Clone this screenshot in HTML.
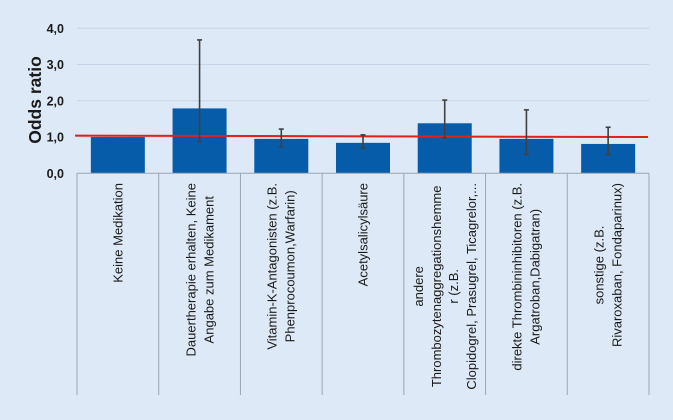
<!DOCTYPE html>
<html><head><meta charset="utf-8"><style>
html,body{margin:0;padding:0}
body{width:673px;height:420px;background:#dde9f7;position:relative;overflow:hidden;font-family:"Liberation Sans",sans-serif}
svg{position:absolute;left:0;top:0}
.lw{position:absolute;width:0;height:0;transform:rotate(-90deg);transform-origin:0 0}
.li{position:absolute;right:0;top:0;transform:translateY(-50%);white-space:nowrap;text-align:center;font-size:13px;line-height:17.5px;color:#1a1a1a;font-weight:normal}
</style></head><body>
<svg id="chart" width="673" height="420"></svg>
<div id="labels"></div>
<script>
const categories=["Keine Medikation","Dauertherapie erhalten, Keine<br>Angabe zum Medikament","Vitamin-K-Antagonisten (z.B.<br>Phenprocoumon,Warfarin)","Acetylsalicylsäure","andere<br>Thrombozytenaggregationshemme<br>r (z.B.<br>Clopidogrel, Prasugrel, Ticagrelor,...","direkte Thrombininhibitoren (z.B.<br>Argatroban,Dabigatran)","sonstige (z.B.<br>Rivaroxaban, Fondaparinux)"];
const values=[1.0,1.79,0.95,0.84,1.38,0.95,0.81];
const errHigh=[null,3.68,1.22,1.06,2.02,1.75,1.27];
const errLow=[null,0.87,0.73,0.69,0.97,0.52,0.52];
const yTicks=[0,1,2,3,4];
const tickLabels=["0,0","1,0","2,0","3,0","4,0"];
const refLine=[1.04,1.0];

const NS="http://www.w3.org/2000/svg";
const svg=document.getElementById('chart');
const X0=77,X1=649,Y0=173.3,PX=36.25;
const bw=(X1-X0)/categories.length;
const y=v=>Y0-v*PX;
const xc=i=>X0+bw*(i+0.5);
function mk(t,a){const e=document.createElementNS(NS,t);for(const k in a)e.setAttribute(k,a[k]);svg.appendChild(e);return e;}
yTicks.forEach((t,i)=>{
  if(t>0){const g=mk('line',{x1:X0,x2:X1,y1:y(t),y2:y(t),stroke:'#c5d4e6','stroke-width':1});
  
  }
  const l=mk('text',{x:64,y:y(t)+4.5,'text-anchor':'end','font-size':12.5,'font-weight':'bold',fill:'#1a1a1a','font-family':'Liberation Sans'});
  l.textContent=tickLabels[i];
  
  
});
const title=mk('text',{x:0,y:0,transform:'translate(41,100) rotate(-90)','text-anchor':'middle','font-size':17.5,'font-weight':'bold',fill:'#1a1a1a','font-family':'Liberation Sans'});
title.textContent='Odds ratio';


values.forEach((v,i)=>{
  const b=mk('rect',{x:xc(i)-27,y:y(v),width:54,height:Y0-y(v),fill:'#075ca9'});
  
  
});
const ax=mk('line',{x1:X0,x2:X1,y1:Y0,y2:Y0,stroke:'#9aa6b2','stroke-width':1});


for(let i=0;i<=categories.length;i++){
  const d=mk('line',{x1:X0+bw*i,x2:X0+bw*i,y1:Y0,y2:395,stroke:'#9aa6b2','stroke-width':1});
  
  
}
const rl=mk('line',{x1:75,x2:648,y1:y(refLine[0]),y2:y(refLine[1]),stroke:'#e0201b','stroke-width':2});


values.forEach((v,i)=>{
  if(errHigh[i]==null)return;
  const g=document.createElementNS(NS,'g');svg.appendChild(g);
  
  
  const x=xc(i);
  [[x,y(errHigh[i]),x,y(errLow[i])],[x-2.5,y(errHigh[i]),x+2.5,y(errHigh[i])],[x-2.5,y(errLow[i]),x+2.5,y(errLow[i])]].forEach(c=>{
    const l=document.createElementNS(NS,'line');
    l.setAttribute('x1',c[0]);l.setAttribute('y1',c[1]);l.setAttribute('x2',c[2]);l.setAttribute('y2',c[3]);
    l.setAttribute('stroke','#404040');l.setAttribute('stroke-width',1.6);g.appendChild(l);
  });
});
const lab=document.getElementById('labels');
categories.forEach((c,i)=>{
  const w=document.createElement('div');w.className='lw';
  w.style.left=xc(i)+'px';w.style.top='183px';
  const inner=document.createElement('div');inner.className='li';inner.innerHTML=c;
  
  
  w.appendChild(inner);lab.appendChild(w);
});
</script>
</body></html>
